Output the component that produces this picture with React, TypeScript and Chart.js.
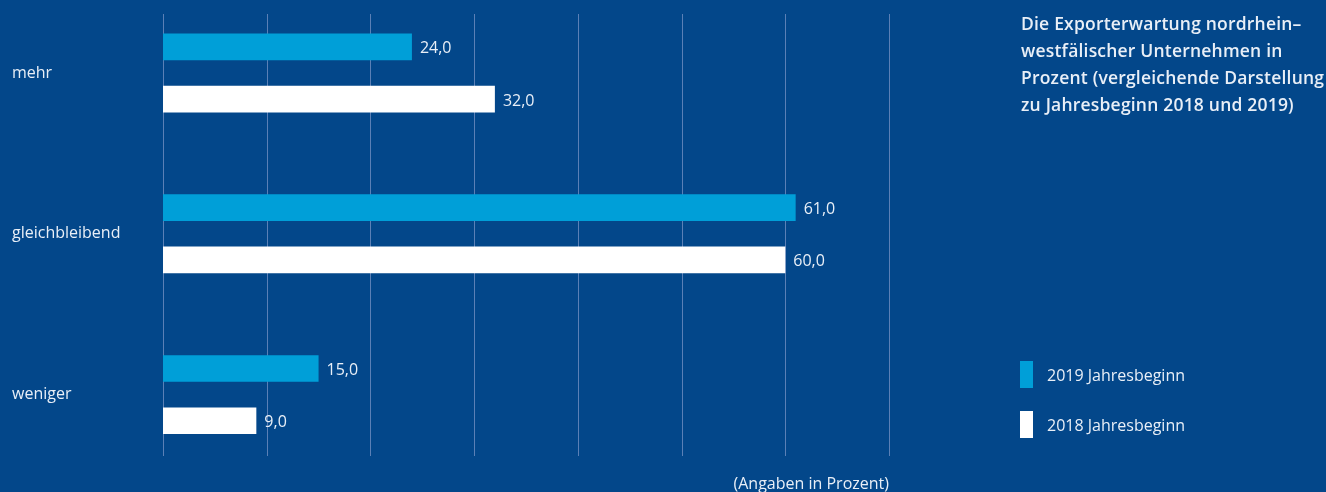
import React, { useEffect, useRef } from "react";
import { Chart, registerables } from "chart.js";

Chart.register(...registerables);

const CATEGORIES = ["mehr", "gleichbleibend", "weniger"];
const SERIES_2019 = [24, 61, 15];
const SERIES_2018 = [32, 60, 9];
const SERIES_NAMES = ["2019 Jahresbeginn", "2018 Jahresbeginn"];
const GRID_TICKS = [0, 10, 20, 30, 40, 50, 60, 70];
const TITLE_LINES = [
  "Die Exporterwartung nordrhein–",
  "westfälischer Unternehmen in",
  "Prozent (vergleichende Darstellung",
  "zu Jahresbeginn 2018 und 2019)",
];
const UNIT_NOTE = "(Angaben in Prozent)";

const BG = "#03478A";
const BAR_2019 = "#009FD8";
const BAR_2018 = "#FFFFFF";
const GRID = "#5B80B6";
const TEXT = "#E9EFF7";
const FONT = "'Open Sans', 'Noto Sans', sans-serif";

const CANVAS_TOP = -20;

const gridPlugin = {
  id: "clippedGrid",
  beforeDatasetsDraw(chart: any) {
    const xs = chart.scales.x;
    const ctx = chart.ctx;
    ctx.save();
    ctx.strokeStyle = GRID;
    ctx.lineWidth = 1;
    const y0 = 14 - CANVAS_TOP;
    const y1 = 456 - CANVAS_TOP;
    GRID_TICKS.forEach((t) => {
      const x = Math.round(xs.getPixelForValue(t)) + 0.5;
      ctx.beginPath();
      ctx.moveTo(x, y0);
      ctx.lineTo(x, y1);
      ctx.stroke();
    });
    ctx.restore();
  },
};

const valueLabelPlugin = {
  id: "valueLabels",
  afterDatasetsDraw(chart: any) {
    const ctx = chart.ctx;
    ctx.save();
    ctx.fillStyle = TEXT;
    ctx.font = `16px ${FONT}`;
    ctx.textAlign = "left";
    ctx.textBaseline = "middle";
    chart.data.datasets.forEach((ds: any, di: number) => {
      const meta = chart.getDatasetMeta(di);
      meta.data.forEach((el: any, i: number) => {
        const v = ds.data[i] as number;
        const txt = v.toFixed(1).replace(".", ",");
        ctx.fillText(txt, el.x + 8, el.y + 2);
      });
    });
    ctx.restore();
  },
};

export default function App() {
  const ref = useRef<HTMLCanvasElement | null>(null);

  useEffect(() => {
    document.body.style.margin = "0";
    if (!ref.current) return;
    const chart = new Chart(ref.current, {
      type: "bar",
      data: {
        labels: CATEGORIES,
        datasets: [
          {
            label: SERIES_NAMES[0],
            data: SERIES_2019,
            backgroundColor: BAR_2019,
            categoryPercentage: 0.65,
            barPercentage: 0.51,
          },
          {
            label: SERIES_NAMES[1],
            data: SERIES_2018,
            backgroundColor: BAR_2018,
            categoryPercentage: 0.65,
            barPercentage: 0.51,
          },
        ],
      },
      options: {
        indexAxis: "y",
        animation: false,
        responsive: false,
        maintainAspectRatio: false,
        layout: { padding: { left: 12, right: 437, top: 12, bottom: 17 } },
        plugins: {
          legend: { display: false },
          tooltip: { enabled: false },
        },
        scales: {
          x: {
            min: 0,
            max: 70,
            display: false,
            ticks: { stepSize: 10 },
          },
          y: {
            grid: { display: false },
            border: { display: false },
            afterFit: (scale: any) => {
              scale.width = 151;
            },
            ticks: {
              crossAlign: "far",
              color: TEXT,
              font: { family: FONT, size: 16 },
            },
          },
        },
      },
      plugins: [gridPlugin, valueLabelPlugin],
    });
    return () => chart.destroy();
  }, []);

  return (
    <div
      style={{
        position: "fixed",
        left: 0,
        top: 0,
        width: 1326,
        height: 492,
        overflow: "hidden",
        background: BG,
        fontFamily: FONT,
        color: TEXT,
      }}
    >
      <div style={{ position: "absolute", left: 0, top: CANVAS_TOP, width: 1326, height: 512 }}>
        <canvas ref={ref} width={1326} height={512} style={{ width: 1326, height: 512 }} />
      </div>
      <div
        style={{
          position: "absolute",
          left: 1021,
          top: 10,
          fontSize: 17.5,
          fontWeight: 600,
          lineHeight: "27px",
          whiteSpace: "nowrap",
          letterSpacing: 0.2,
        }}
      >
        {TITLE_LINES.map((l, i) => (
          <div key={i}>{l}</div>
        ))}
      </div>
      {SERIES_NAMES.map((name, i) => (
        <div
          key={name}
          style={{ position: "absolute", left: 1020, top: 361 + i * 50, height: 27, display: "flex", alignItems: "center" }}
        >
          <div style={{ width: 13, height: 27, background: i === 0 ? BAR_2019 : BAR_2018 }} />
          <div style={{ marginLeft: 14, fontSize: 16, whiteSpace: "nowrap" }}>{name}</div>
        </div>
      ))}
      <div
        style={{
          position: "absolute",
          right: 1326 - 889,
          top: 472,
          fontSize: 16,
          whiteSpace: "nowrap",
          lineHeight: "22px",
        }}
      >
        {UNIT_NOTE}
      </div>
    </div>
  );
}
